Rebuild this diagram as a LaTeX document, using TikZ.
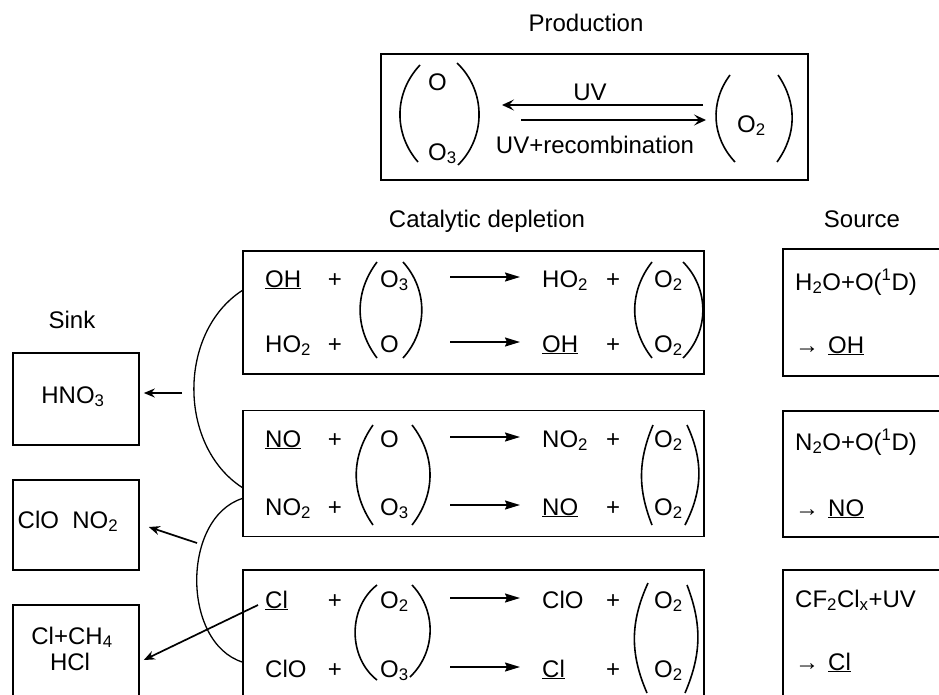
\documentclass[tikz,border=0pt]{standalone}
\usepackage{fontspec}
\setmainfont{Liberation Sans}
\usetikzlibrary{arrows.meta}
\newcommand{\Otwo}{O\textsubscript{2}}
\newcommand{\Othree}{O\textsubscript{3}}
\newcommand{\HOtwo}{HO\textsubscript{2}}
\newcommand{\NOtwo}{NO\textsubscript{2}}
\newcommand{\srcarrow}{→\hspace{9pt}}

\begin{document}
\begin{tikzpicture}[x=1pt,y=-1pt,
  boxline/.style={draw,line width=1.6pt,inner sep=0pt},
  chem/.style={font=\fontsize{24}{26}\selectfont,inner sep=0pt},
  heading/.style={chem,anchor=base},
  paren/.style={line width=1.6pt},
  lpar/.style={paren,bend right=#1},
  rpar/.style={paren,bend left=#1},
  react/.style={line width=1.6pt,-{Stealth[length=15pt,width=9pt,inset=2pt]}},
  uvarr/.style={line width=1.5pt,-{Stealth[length=12pt,width=11pt,inset=5pt]}},
  sinkarr/.style={line width=1.7pt,-{Stealth[length=11pt,width=9pt]}},
  cycarc/.style={line width=1.3pt}]
\useasboundingbox (0,0) rectangle (939,694);
\clip (0,0) rectangle (939,694);

% frames
\node[boxline,minimum width=427pt,minimum height=126pt] (prod) at (594.5,117) {};
\node[boxline,minimum width=461pt,minimum height=123pt] (cat1) at (473.5,312.5) {};
\node[boxline,minimum width=461pt,minimum height=126pt] (cat2) at (473.5,473.5) {};
\node[boxline,minimum width=461pt,minimum height=160pt] (cat3) at (473.5,650) {};
\node[boxline,minimum width=200pt,minimum height=127pt] (src1) at (883,312.5) {};
\node[boxline,minimum width=200pt,minimum height=126pt] (src2) at (883,474) {};
\node[boxline,minimum width=200pt,minimum height=160pt] (src3) at (883,650) {};
\node[boxline,minimum width=126pt,minimum height=92pt] (sink1) at (76,399) {};
\node[boxline,minimum width=126pt,minimum height=90pt] (sink2) at (76,525) {};
\node[boxline,minimum width=126pt,minimum height=120pt] (sink3) at (76,665) {};

% headings
\node[heading] (tprod) at (586,31) {Production};
\node[heading] (tcat) at (487,227) {Catalytic depletion};
\node[heading] (tsrc) at (862,227) {Source};
\node[heading] (tsink) at (72,328) {Sink};

% production
\node[chem,anchor=base west] (pO) at (428,90) {O};
\node[chem,anchor=base west] (pO3) at (428,160) {\Othree};
\node[chem,anchor=base west] (pO2) at (737,132) {\Otwo};
\node[chem,anchor=base] (uvtop) at (590,100) {UV};
\node[chem,anchor=base] (uvbot) at (595,153) {UV+recombination};
\draw[lpar=42] (420,65) to (418,162);
\draw[rpar=46] (457,63) to (458,165);
\draw[lpar=40] (730,75) to (735,162);
\draw[rpar=35] (778,75) to (777,162);
\coordinate (uvA) at (502,105);
\coordinate (uvB) at (703,105);
\coordinate (rcA) at (521,120);
\coordinate (rcB) at (706,120);
\draw[uvarr] (uvB) -- (uvA);
\draw[uvarr] (rcA) -- (rcB);

% catalytic cycles
\foreach \y/\a/\b/\c [count=\i] in {
  287/{\underline{OH}}/{\Othree}/{\HOtwo},
  352/{\HOtwo}/{O}/{\underline{OH}},
  447/{\underline{NO}}/{O}/{\NOtwo},
  515/{\NOtwo}/{\Othree}/{\underline{NO}},
  608/{\underline{Cl}}/{\Otwo}/{ClO},
  677/{ClO}/{\Othree}/{\underline{Cl}}}{
  \node[chem,anchor=base west] (a\i) at (265,\y) {\a};
  \node[chem,anchor=base] (p\i) at (335,\y) {+};
  \node[chem,anchor=base west] (b\i) at (380,\y) {\b};
  \node[chem,anchor=base west] (c\i) at (542,\y) {\c};
  \node[chem,anchor=base] (q\i) at (613,\y) {+};
  \node[chem,anchor=base west] (d\i) at (654,\y) {\Otwo};
  \coordinate (ra\i) at (450,\y-10);
  \coordinate (rb\i) at (520,\y-10);
  \draw[react] (ra\i) -- (rb\i);
}
\draw[lpar=37] (377,262) to (377,358);
\draw[rpar=42] (403,262) to (403,358);
\draw[lpar=38] (652,262) to (652,358);
\draw[rpar=45] (683,262) to (683,358);
\draw[lpar=35] (373,425) to (373,525);
\draw[rpar=38] (412,425) to (412,525);
\draw[lpar=22] (653,425) to (652,525);
\draw[rpar=26] (687,425) to (685,525);
\draw[lpar=52] (377,585) to (377,680);
\draw[rpar=45] (412,585) to (410,677);
\draw[lpar=24] (648,583) to (647,693);
\draw[rpar=22] (687,585) to (685,693);

% sources
\node[chem,anchor=base west] (s1a) at (795,290) {H\textsubscript{2}O+O(\textsuperscript{1}D)};
\node[chem,anchor=base west] (s1b) at (795,353) {\srcarrow\underline{OH}};
\node[chem,anchor=base west] (s2a) at (795,450) {N\textsubscript{2}O+O(\textsuperscript{1}D)};
\node[chem,anchor=base west] (s2b) at (795,516) {\srcarrow\underline{NO}};
\node[chem,anchor=base west] (s3a) at (795,607) {CF\textsubscript{2}Cl\textsubscript{x}+UV};
\node[chem,anchor=base west] (s3b) at (795,670) {\srcarrow\underline{Cl}};

% sinks
\node[chem,anchor=base] (hno3) at (73,403) {HNO\textsubscript{3}};
\node[chem,anchor=base] (clono2) at (68,528) {ClO\ \ \NOtwo};
\node[chem,anchor=base] (clch4) at (72,644) {Cl+CH\textsubscript{4}};
\node[chem,anchor=base] (hcl) at (70,670) {HCl};

% coupling arcs and removal
\draw[cycarc] ([yshift=22pt]cat1.west) to[bend right=57] ([yshift=-14pt]cat2.west);
\draw[cycarc] ([yshift=-25pt]cat2.west) to[bend right=72] ([yshift=-12pt]cat3.west);
\coordinate (h1) at (182,393);
\coordinate (h2) at (197,543);
\coordinate (h3) at (258,605);
\draw[sinkarr] (h1) -- ([xshift=4pt]h1 -| sink1.east);
\draw[sinkarr] (h2) -- ([xshift=9pt,yshift=-2pt]sink2.east);
\draw[sinkarr] (h3) -- ([xshift=4pt,yshift=5pt]sink3.east);
\end{tikzpicture}
\end{document}
